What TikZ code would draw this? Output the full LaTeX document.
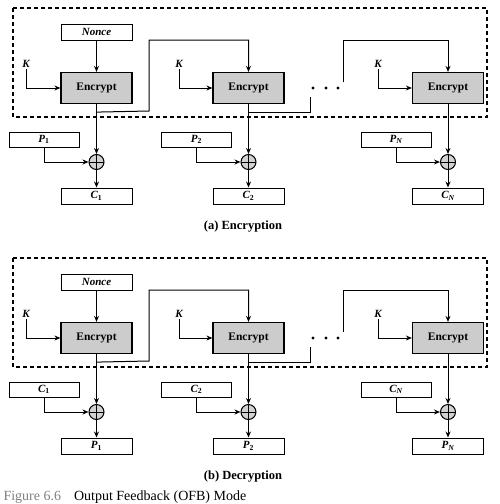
\documentclass[tikz,border=0pt]{standalone}
\usepackage{fontspec}
\setmainfont{Liberation Serif}
\usetikzlibrary{arrows.meta}
\usetikzlibrary{calc}
\usepackage{xcolor}

\tikzset{
  blk/.style={draw, line width=1pt, minimum width=71pt, minimum height=16pt, inner sep=0pt, font=\fontsize{11}{12}\selectfont\bfseries\itshape},
  encbox/.style={draw, line width=1.2pt, fill=gray!40, minimum width=71pt, minimum height=31pt, inner sep=0pt, font=\fontsize{11.5}{12}\selectfont\bfseries},
  klbl/.style={inner sep=1pt, font=\fontsize{11}{12}\selectfont\bfseries\itshape},
  xorc/.style={draw, circle, line width=1pt, fill=gray!35, minimum size=15pt, inner sep=0pt,
    path picture={\draw[line width=.8pt] (path picture bounding box.north) -- (path picture bounding box.south)
      (path picture bounding box.west) -- (path picture bounding box.east);}},
  dashbox/.style={line width=1.4pt, dash pattern=on 4pt off 3pt},
  captn/.style={font=\fontsize{12.5}{14}\selectfont\bfseries},
}

\begin{document}
\begin{tikzpicture}[x=1pt, y=-1pt, line width=1pt, >={Stealth[length=6pt,width=5pt]}]
\useasboundingbox (0,0) rectangle (500,504);
\foreach \yo/\inp/\outp/\capt/\nm in {0/P/C/(a) Encryption/enc, 250/C/P/(b) Decryption/dec} {
 \begin{scope}[shift={(0,\yo)}]
 \draw[dashbox] (13,8) rectangle (487,117);
 \node[blk] (nonce-\nm) at (96.5,32) {Nonce};
 \foreach \i/\x/\px/\kx/\sub in {1/96.5/44/26/\upshape 1, 2/248.5/196.5/179/\upshape 2, 3/448/396/378/N} {
  \node[encbox] (e\i-\nm) at (\x,88) {Encrypt};
  \node[klbl] (k\i-\nm) at (\kx,64) {K};
  \node[xorc] (x\i-\nm) at (\x,162) {};
  \node[blk, minimum width=70pt, minimum height=15pt] (in\i-\nm) at (\px,139.5) {\inp\textsubscript{\sub}};
  \node[blk] (out\i-\nm) at (\x,196) {\outp\textsubscript{\sub}};
  \draw[->] (k\i-\nm.south) |- (e\i-\nm.west);
  \draw[->] (e\i-\nm) -- (x\i-\nm);
  \draw[->] (in\i-\nm) |- (x\i-\nm);
  \draw[->] (x\i-\nm) -- (out\i-\nm);
 }
 \draw[->] (nonce-\nm) -- (e1-\nm);
 % feedback paths
 \coordinate (t1-\nm) at ($(e1-\nm.south)+(0,8)$);
 \coordinate (t2-\nm) at ($(e2-\nm.south)+(0,8)$);
 \coordinate (dl-\nm) at (310,97);
 \coordinate (dr-\nm) at (343,82);
 \draw[->] (t1-\nm) -- (149,111) -- (149,40) -| (e2-\nm.north);
 \draw (t2-\nm) -| (dl-\nm);
 \draw[->] (dr-\nm) -- (343,40) -| (e3-\nm.north);
 \foreach \dx in {313,326,338} \fill (\dx,88) circle (1.7);
 \node[captn] (cap-\nm) at (243,227) {\capt};
 \end{scope}
}
\node[anchor=west, inner sep=0pt, font=\fontsize{14}{16}\selectfont] (fig) at (3,497)
  {\textcolor{gray}{Figure 6.6}\hspace{13pt}Output Feedback (OFB) Mode};
\end{tikzpicture}
\end{document}
